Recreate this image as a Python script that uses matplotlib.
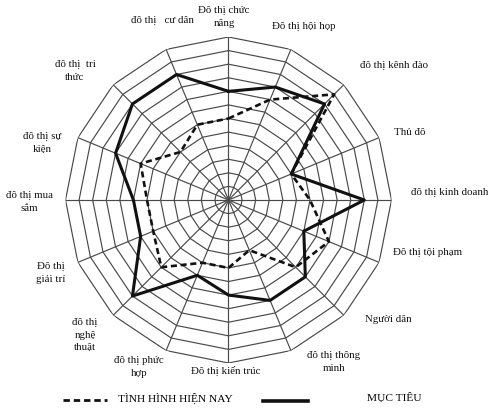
import numpy as np
import matplotlib
matplotlib.use("Agg")
import matplotlib.pyplot as plt
from matplotlib.lines import Line2D

# clockwise from the top spoke
categories = [
    "Đô thị chức\nnăng", "Đô thị hội họp", "đô thị kênh đào", "Thủ đô",
    "đô thị kinh doanh", "Đô thị tội phạm", "Người dân", "đô thị thông\nminh",
    "Đô thị kiến trúc", "đô thị phức\nhợp", "đô thị\nnghệ\nthuật", "Đô thị\ngiải trí",
    "đô thị mua\nsắm", "đô thị sự\nkiện", "đô thị  tri\nthức", "đô thị   cư dân",
]
muc_tieu = [8, 9, 10, 5, 10, 6, 8, 8, 7, 6, 10, 7, 7, 9, 10, 10]
hien_nay = [6, 8, 11, 5, 6, 8, 7, 4, 5, 5, 7, 6, 6, 7, 5, 6]
n_rings = 12

# label centres in pixels (x from left, y from top)
label_pos = [
    (224, 17), (304, 26), (394, 65), (410, 132),
    (450, 192), (428, 252), (388, 319), (334, 362),
    (226, 371), (139, 367), (85, 335), (51, 273),
    (29, 202), (42, 143), (75, 71), (162, 20),
]

W, H = 492, 415
plt.rcParams['font.family'] = ['Liberation Serif', 'DejaVu Serif']

fig = plt.figure(figsize=(W / 100, H / 100), dpi=100)
fig.patch.set_facecolor("white")

cx, cy, R = 228.5, 200, 163
ax = fig.add_axes([(cx - R) / W, 1 - (cy + R) / H, 2 * R / W, 2 * R / H], projection="polar")
ax.set_theta_offset(np.pi / 2)
ax.set_theta_direction(-1)
ax.set_ylim(0, n_rings)
ax.grid(False)
ax.set_xticks([])
ax.set_yticks([])
ax.spines["polar"].set_visible(False)
ax.patch.set_alpha(0)

n = len(categories)
ang = np.linspace(0, 2 * np.pi, n, endpoint=False)
ang_c = np.append(ang, ang[0])

grid_col = "#4a4a4a"
for k in range(1, n_rings + 1):
    ax.plot(ang_c, [k] * (n + 1), color=grid_col, lw=0.85, zorder=1)
for a in ang:
    ax.plot([a, a], [0, n_rings], color=grid_col, lw=0.85, zorder=1)

ax.plot(ang_c, hien_nay + hien_nay[:1], color="#111111", lw=1.9,
        linestyle=(0, (2.3, 1.4)), zorder=3)
ax.plot(ang_c, muc_tieu + muc_tieu[:1], color="#111111", lw=2.2, zorder=4)

for lab, (x, y) in zip(categories, label_pos):
    fig.text(x / W, 1 - y / H, lab, ha="center", va="center", fontsize=7.8,
             linespacing=1.5, color="#111111")

# legend
fig.add_artist(Line2D([63 / W, 107 / W], [1 - 400 / H] * 2, color="#111111", lw=2.0,
                      linestyle=(0, (2.3, 1.4))))
fig.text(118 / W, 1 - 398 / H, "TÌNH HÌNH HIỆN NAY", ha="left", va="center", fontsize=8.2)
fig.add_artist(Line2D([263 / W, 308 / W], [1 - 401 / H] * 2, color="#111111", lw=2.6))
fig.text(367 / W, 1 - 398 / H, "MỤC TIÊU", ha="left", va="center", fontsize=8.2)

fig.savefig("out.png", dpi=100, facecolor="white")
